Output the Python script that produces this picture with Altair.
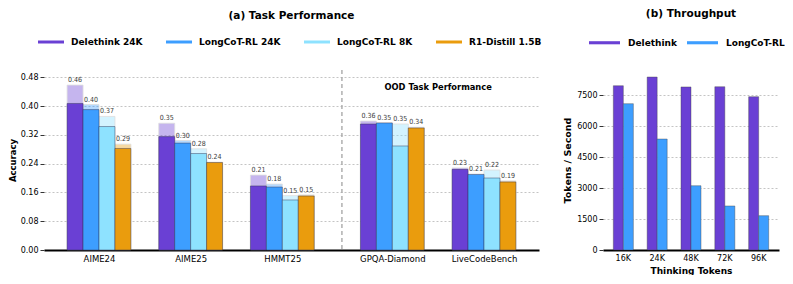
import altair as alt
import pandas as pd

# ---------------- data ----------------
benchmarks = ["AIME24", "AIME25", "HMMT25", "GPQA-Diamond", "LiveCodeBench"]
group_pos = [0, 1, 2, 3.2, 4.2]
models = ["Delethink 24K", "LongCoT-RL 24K", "LongCoT-RL 8K", "R1-Distill 1.5B"]
colors = ["#6A40D4", "#3D9EFF", "#8EE2FF", "#EA9C0D"]

# mean accuracy (solid bars)
mean_delethink = [0.407, 0.315, 0.178, 0.350, 0.224]
mean_lc24 = [0.390, 0.297, 0.175, 0.353, 0.210]
mean_lc8 = [0.343, 0.268, 0.139, 0.289, 0.200]
mean_r1 = [0.282, 0.243, 0.150, 0.339, 0.189]
# best accuracy (light bars, labelled)
best_delethink = [0.458, 0.352, 0.208, 0.358, 0.228]
best_lc24 = [0.404, 0.304, 0.183, 0.353, 0.210]
best_lc8 = [0.371, 0.281, 0.151, 0.350, 0.222]
best_r1 = [0.294, 0.244, 0.153, 0.341, 0.192]

acc_ticks = [0.0, 0.08, 0.16, 0.24, 0.32, 0.40, 0.48]
separator_pos = [2.65]
ood_label = ["OOD Task Performance"]
ood_label_y = [0.438]

lengths = ["16K", "24K", "48K", "72K", "96K"]
methods = ["Delethink", "LongCoT-RL"]
tp_delethink = [7950, 8370, 7890, 7900, 7420]
tp_longcot = [7080, 5370, 3110, 2130, 1660]
tp_ticks = [0, 1500, 3000, 4500, 6000, 7500]

# ---------------- tables ----------------
FONT = "DejaVu Sans"
NARROW = "DejaVu Sans Condensed, DejaVu Sans"
bar_w = 0.174
means = [mean_delethink, mean_lc24, mean_lc8, mean_r1]
bests = [best_delethink, best_lc24, best_lc8, best_r1]
rows = []
for mi, m in enumerate(models):
    for bi, b in enumerate(benchmarks):
        left = group_pos[bi] + (mi - 2) * bar_w
        rows.append({
            "model": m, "bench": b,
            "x0": left, "x1": left + bar_w, "xm": left + bar_w / 2,
            "mean": means[mi][bi], "best": bests[mi][bi],
        })
acc = pd.DataFrame(rows)

label_map = "{" + ",".join(f"'{p}':'{b}'" for p, b in zip(group_pos, benchmarks)) + "}"

xscale = alt.Scale(domain=[-0.6, 4.8], nice=False, zero=False)
yscale = alt.Scale(domain=[0, 0.5], nice=False)
cscale = alt.Scale(domain=models, range=colors)

left_legend = alt.Legend(
    title=None, orient="none", legendX=-6, legendY=-41, direction="horizontal",
    symbolType="M-1,-0.115L1,-0.115L1,0.115L-1,0.115Z", symbolSize=676,
    symbolStrokeWidth=0, symbolOpacity=1, labelFontSize=9, labelFont=FONT,
    labelFontWeight="bold", labelOffset=7, columnPadding=23, labelColor="black")

xenc = alt.X("x0:Q", scale=xscale, axis=alt.Axis(
    values=group_pos, tickCount=len(group_pos),
    labelExpr=f"{label_map}[''+datum.value]", title=None,
    grid=False, ticks=False, domain=True, domainColor="black", domainWidth=2,
    labelFontSize=8.5, labelFont=FONT, labelPadding=4, labelColor="black"))
yenc = alt.Y("best:Q", scale=yscale, axis=alt.Axis(
    values=acc_ticks, tickCount=len(acc_ticks), format=".2f", title="Accuracy",
    titleFontSize=8.5, titleFont=FONT, titleFontWeight="bold", titlePadding=3,
    labelFontSize=8, labelFont=FONT, labelColor="black", grid=True,
    gridDash=[2, 2], gridColor="#b5b5b5", gridWidth=0.8, domain=False,
    tickSize=4, tickColor="#333", labelPadding=2, labelOverlap=False))

light = alt.Chart(acc).mark_bar(opacity=0.38, stroke="#aaaaaa", strokeWidth=0.8).encode(
    x=xenc, x2="x1:Q", y=yenc, y2=alt.datum(0),
    color=alt.Color("model:N", scale=cscale, legend=left_legend))

solid = alt.Chart(acc).mark_bar(stroke="#2d2d4d", strokeWidth=0.8, strokeOpacity=0.55).encode(
    x="x0:Q", x2="x1:Q", y="mean:Q", y2=alt.datum(0),
    color=alt.Color("model:N", scale=cscale, legend=left_legend))

labels = alt.Chart(acc).mark_text(baseline="bottom", dy=-2, fontSize=7,
                                 font=NARROW, color="#3a3a3a").encode(
    x="xm:Q", y="best:Q", text=alt.Text("best:Q", format=".2f"))

sep = alt.Chart(pd.DataFrame({"x": separator_pos})).mark_rule(
    strokeDash=[4, 3], color="#aaa", strokeWidth=1.4).encode(x="x:Q")

ood = alt.Chart(pd.DataFrame({
    "t": ood_label, "x": [sum(group_pos[3:]) / 2], "y": ood_label_y})).mark_text(
    baseline="bottom", fontSize=8.3, font=FONT, fontWeight="bold", color="black").encode(
    x="x:Q", y="y:Q", text="t:N")

left_chart = alt.layer(light, solid, labels, sep, ood).properties(
    width=495, height=180,
    title=alt.TitleParams("(a) Task Performance", fontSize=10.5, font=FONT,
                          fontWeight="bold", anchor="middle", offset=8))

tp = pd.DataFrame({
    "length": lengths * 2,
    "method": [methods[0]] * len(lengths) + [methods[1]] * len(lengths),
    "tps": tp_delethink + tp_longcot,
})

right_chart = alt.Chart(tp).mark_bar(stroke="#444", strokeWidth=0.8, strokeOpacity=0.5).encode(
    x=alt.X("length:N", sort=lengths, scale=alt.Scale(paddingInner=0.408, paddingOuter=0.305),
            axis=alt.Axis(title="Thinking Tokens", titleFontSize=9, titleFont=FONT,
                          titleFontWeight="bold", titlePadding=4, labelAngle=0,
                          labelFontSize=8, labelFont=FONT, labelColor="black",
                          ticks=False, domain=True, domainColor="black",
                          domainWidth=2, labelPadding=4)),
    xOffset=alt.XOffset("method:N", sort=methods),
    y=alt.Y("tps:Q", scale=alt.Scale(domain=[0, 8710], nice=False),
            axis=alt.Axis(values=tp_ticks, tickCount=len(tp_ticks), format="d",
                          title="Tokens / Second", titleFontSize=9.5, titleFont=FONT,
                          titleFontWeight="bold", titlePadding=4, labelFontSize=8,
                          labelFont=FONT, labelColor="black", grid=True,
                          gridDash=[2, 2], gridColor="#b5b5b5", gridWidth=0.8,
                          domain=False, tickSize=4, tickColor="#333",
                          labelPadding=2, labelOverlap=False)),
    color=alt.Color("method:N", scale=alt.Scale(domain=methods, range=colors[:2]),
                    legend=alt.Legend(
                        title=None, orient="none", legendX=-14, legendY=-43,
                        direction="horizontal",
                        symbolType="M-1,-0.1L1,-0.1L1,0.1L-1,0.1Z", symbolSize=961,
                        symbolStrokeWidth=0, labelFontSize=9, labelFont=FONT,
                        labelFontWeight="bold", labelOffset=8, columnPadding=10,
                        labelColor="black")),
).properties(width=176, height=180,
             title=alt.TitleParams("(b) Throughput", fontSize=10.5, font=FONT,
                                   fontWeight="bold", anchor="middle", offset=8))

chart = alt.hconcat(left_chart, right_chart, spacing=64, bounds="flush").resolve_scale(
    color="independent").resolve_legend(color="independent").properties(
    padding={"left": 0, "top": 0, "right": 0, "bottom": 0}
).configure_view(stroke=None)

chart.save("out.html", embed_options={"renderer": "svg", "actions": False})
